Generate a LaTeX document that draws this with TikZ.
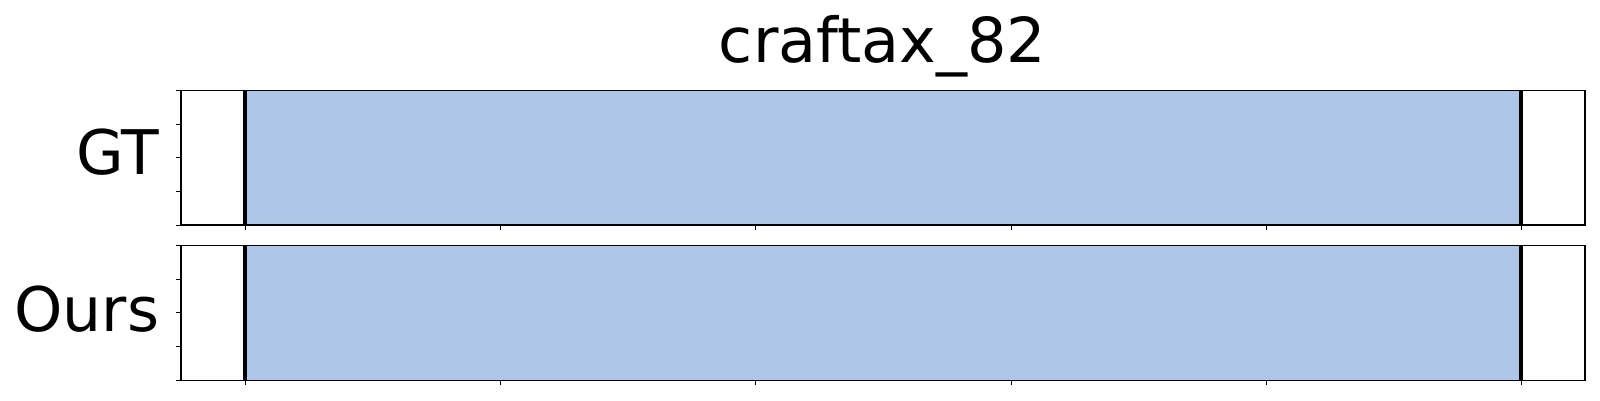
\documentclass[tikz,border=0pt]{standalone}
\usepackage{fontspec}
\setmainfont{DejaVu Sans}
\definecolor{spanblue}{HTML}{AEC7E8}
\tikzset{
  frame/.style={draw=black, line width=1.1pt},
  tickmark/.style={draw=black, line width=1pt},
  boundary/.style={draw=black, line width=4pt},
  rowlabel/.style={anchor=base east, inner sep=0pt, font=\fontsize{61.5}{70}\selectfont},
  titlelabel/.style={anchor=base, inner sep=0pt, font=\fontsize{62}{70}\selectfont}
}
\begin{document}
\begin{tikzpicture}[x=1pt,y=-1pt]
\useasboundingbox (0,0) rectangle (1600,400);
\fill[white] (0,0) rectangle (1600,400);
% title
\node[titlelabel] (title) at (882.5,62.7) {craftax\_82};
% axes 1 (GT)
\fill[spanblue] (245,90.3) rectangle (1521,225);
\draw[boundary] (245,90.3) -- (245,225);
\draw[boundary] (1521,90.3) -- (1521,225);
\draw[frame] (181,90.3) rectangle (1585,225);
\foreach \yy in {90.3,124,157.7,191.3,225} {\draw[tickmark] (176,\yy) -- (181,\yy);}
\foreach \xx in {245.7,500.8,755.9,1011,1266,1521} {\draw[tickmark] (\xx,225) -- (\xx,230);}
\node[rowlabel] (gt) at (159.3,174) {GT};
% axes 2 (Ours)
\fill[spanblue] (245,245.3) rectangle (1521,380.3);
\draw[boundary] (245,245.3) -- (245,380.3);
\draw[boundary] (1521,245.3) -- (1521,380.3);
\draw[frame] (181,245.3) rectangle (1585,380.3);
\foreach \yy in {245.3,279,312.8,346.5,380.3} {\draw[tickmark] (176,\yy) -- (181,\yy);}
\foreach \xx in {245.7,500.8,755.9,1011,1266,1521} {\draw[tickmark] (\xx,380.3) -- (\xx,385.3);}
\node[rowlabel] (ours) at (159.3,331.5) {Ours};
\end{tikzpicture}
\end{document}
